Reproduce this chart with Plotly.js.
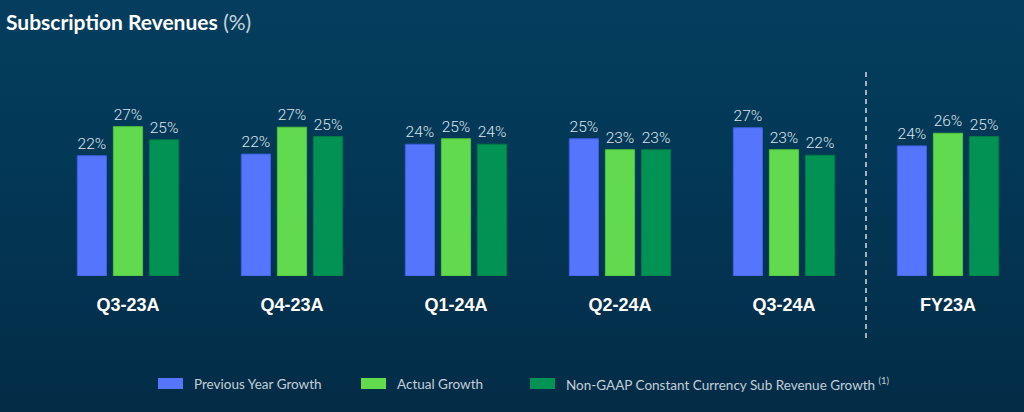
<!DOCTYPE html>
<html>
<head>
<meta charset="utf-8">
<script src="https://cdn.plot.ly/plotly-3.0.1.min.js"></script>
<style>
  html, body { margin: 0; padding: 0; }
  body { width: 1024px; height: 412px; background: linear-gradient(180deg, #043e5e 0%, #033654 50%, #032c46 100%); overflow: hidden; }
  #chart { width: 1024px; height: 412px; }
</style>
</head>
<body>
<div id="chart"></div>
<script>
// ---- data ----
const categories = ["Q3-23A", "Q4-23A", "Q1-24A", "Q2-24A", "Q3-24A", "FY23A"];
const seriesNames = ["Previous Year Growth", "Actual Growth", "Non-GAAP Constant Currency Sub Revenue Growth"];
const legendSuffix = ["", "", " <sup>(1)</sup>"];
const previousYearGrowth = [21.9, 22.2, 24.0, 25.0, 27.0, 23.7];
const actualGrowth       = [27.2, 27.1, 25.0, 23.0, 23.0, 26.0];
const constantCurrency   = [24.8, 25.4, 24.0, 23.0, 22.0, 25.4];
const seriesValues = [previousYearGrowth, actualGrowth, constantCurrency];
const colors = ["#5475fc", "#62da4e", "#009353"];
const lineColors = ["#3f5fe0", "#4fc23d", "#007a44"];

// ---- layout geometry helpers (pixels -> paper) ----
const L = 40, R = 0, T = 60, B = 136, W = 1024, H = 412;
const pw = W - L - R, ph = H - T - B;
const px2x = px => (px - L) / pw;
const py2y = py => (H - B - py) / ph;

const traces = seriesValues.map((vals, i) => ({
  type: "bar",
  name: seriesNames[i],
  x: categories,
  y: vals,
  marker: { color: colors[i], line: { color: lineColors[i], width: 1 } },
  texttemplate: "%{y:.0f}%",
  textposition: "outside",
  cliponaxis: false,
  textfont: { family: "Roboto, sans-serif", size: 15.5, color: "#dde5ee", weight: 300 },
  showlegend: false,
  hoverinfo: "skip"
}));

const legendX = [158, 361, 530];
const shapes = [{
  type: "line", xref: "x", yref: "paper",
  x0: 4.5, x1: 4.5, y0: py2y(72), y1: py2y(338),
  line: { color: "#d5dde6", width: 1.5, dash: "5px,4px" }
}];
const annotations = [];
seriesNames.forEach((n, i) => {
  shapes.push({
    type: "rect", xref: "paper", yref: "paper",
    x0: px2x(legendX[i]), x1: px2x(legendX[i] + 25),
    y0: py2y(389), y1: py2y(378),
    fillcolor: colors[i], line: { width: 0 }
  });
  annotations.push({
    xref: "paper", yref: "paper",
    x: px2x(legendX[i] + 34), y: py2y(383.5),
    xanchor: "left", yanchor: "middle",
    text: n + legendSuffix[i], showarrow: false,
    font: { family: "Lato, sans-serif", size: 13.5, color: "#c4ceda" }
  });
});

const layout = {
  width: W, height: H,
  margin: { l: L, r: R, t: T, b: B, pad: 0 },
  paper_bgcolor: "rgba(0,0,0,0)",
  plot_bgcolor: "rgba(0,0,0,0)",
  title: {
    text: "<b>Subscription Revenues</b> <span style='color:#c9d3dd'>(%)</span>",
    x: 6 / W, xanchor: "left", xref: "container",
    y: 1 - 23 / H, yanchor: "middle", yref: "container",
    font: { family: "Lato, sans-serif", size: 21, color: "#ffffff" }
  },
  barmode: "group",
  bargap: 0.34,
  bargroupgap: 0.19,
  xaxis: {
    type: "category",
    range: [-(128 - L) / 164, -(128 - L) / 164 + pw / 164],
    showgrid: false, zeroline: false, showline: false, ticks: "",
    ticklabelstandoff: 16,
    tickfont: { family: "Liberation Sans, Arial, sans-serif", size: 18, color: "#ffffff", weight: "bold" },
    fixedrange: true
  },
  yaxis: {
    range: [0, ph / 5.49],
    visible: false, showgrid: false, zeroline: false, fixedrange: true
  },
  shapes: shapes,
  annotations: annotations,
  font: { family: "Lato, sans-serif", color: "#ffffff" }
};

Plotly.newPlot("chart", traces, layout, { displayModeBar: false, staticPlot: true });
</script>
</body>
</html>
